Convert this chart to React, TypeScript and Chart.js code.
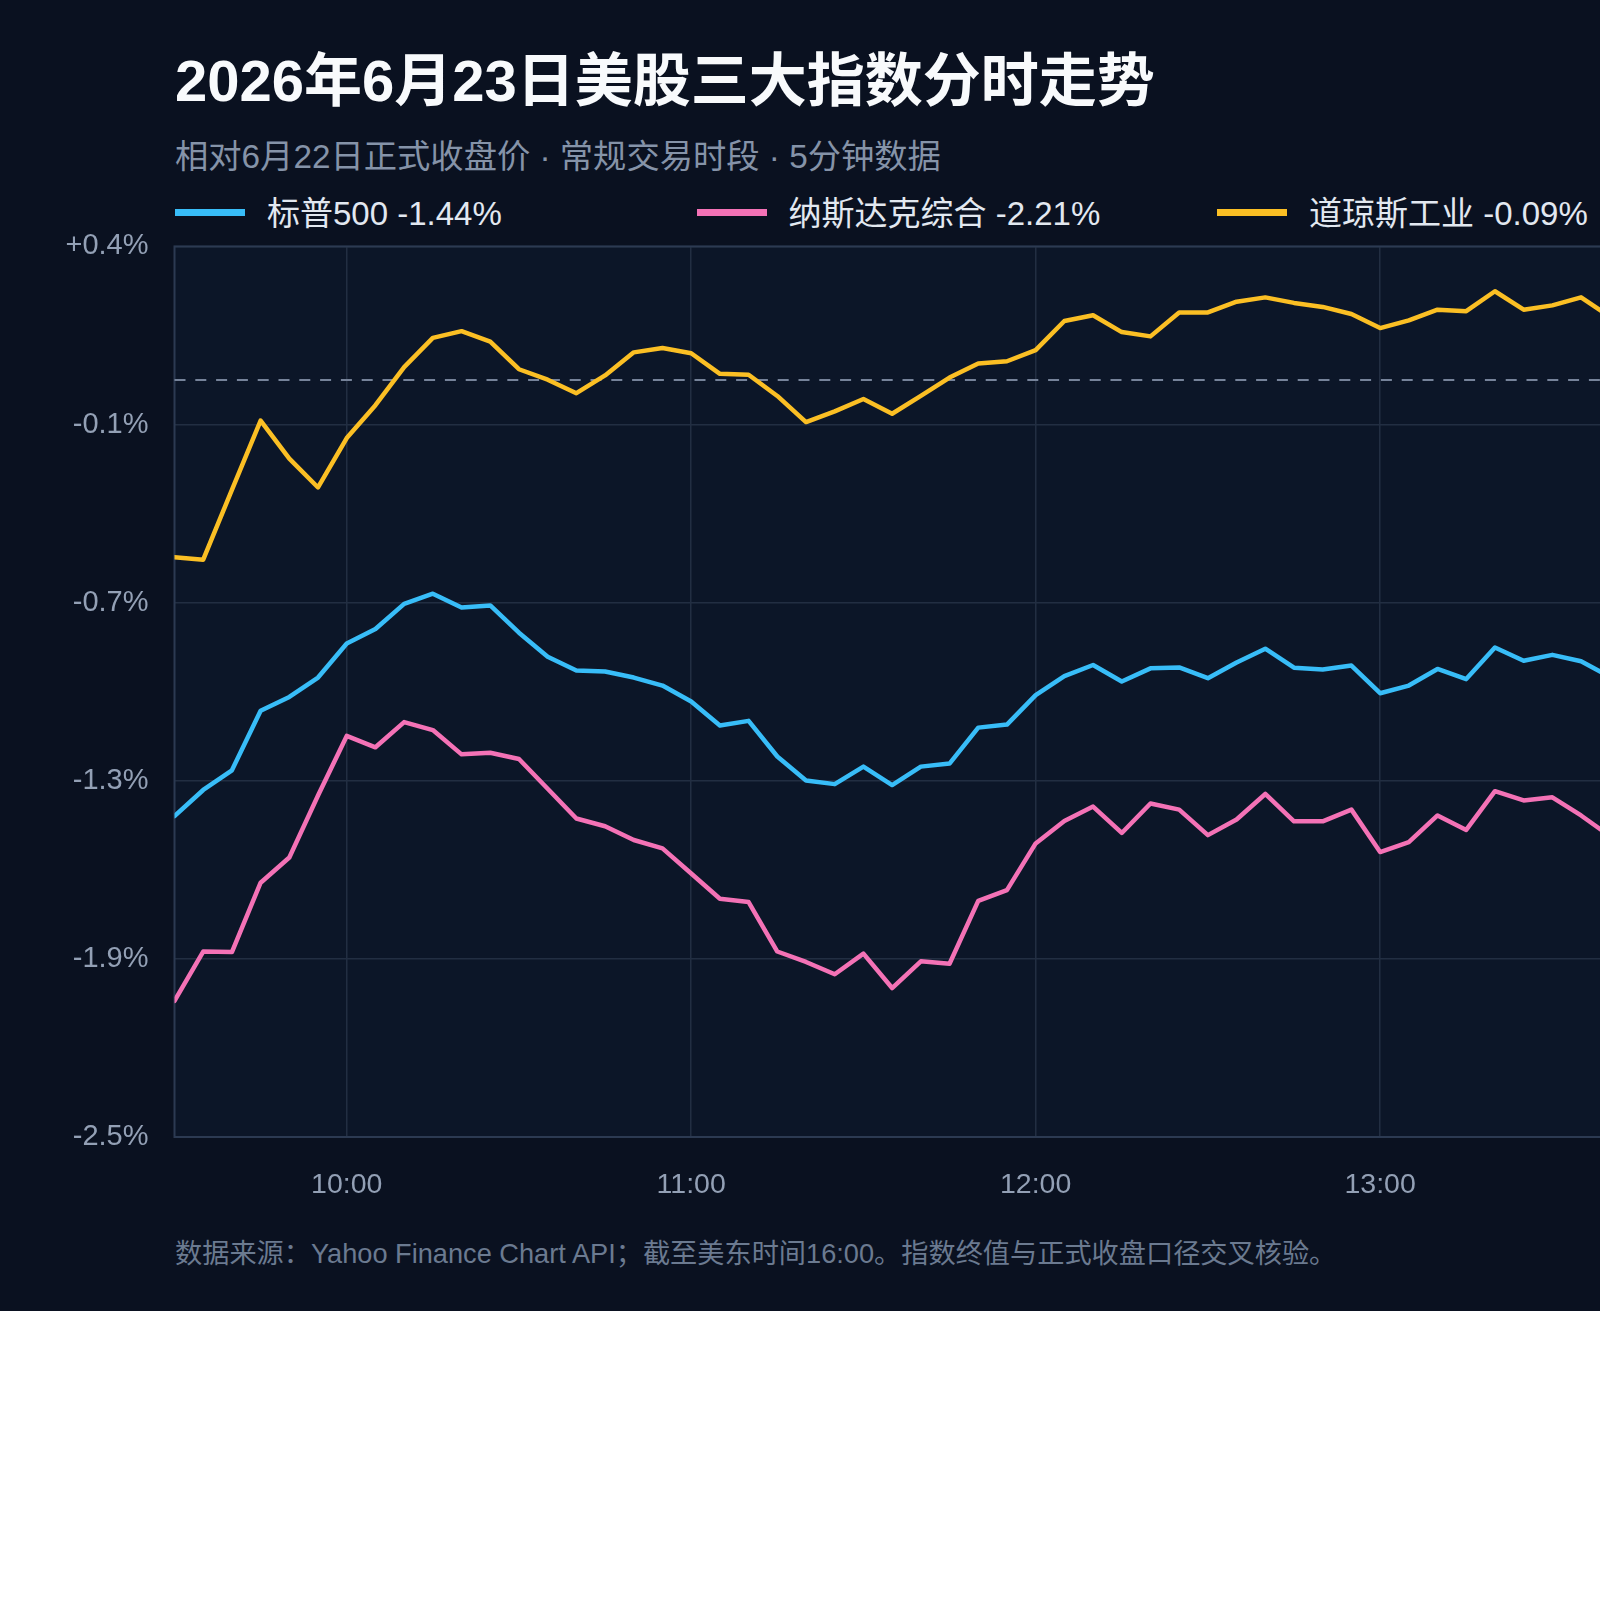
import React, { useEffect, useRef } from "react";
import { Chart, registerables } from "chart.js";

Chart.register(...registerables);

// ---- data ----
const times = [
  "09:30", "09:35", "09:40", "09:45", "09:50", "09:55",
  "10:00", "10:05", "10:10", "10:15", "10:20", "10:25",
  "10:30", "10:35", "10:40", "10:45", "10:50", "10:55",
  "11:00", "11:05", "11:10", "11:15", "11:20", "11:25",
  "11:30", "11:35", "11:40", "11:45", "11:50", "11:55",
  "12:00", "12:05", "12:10", "12:15", "12:20", "12:25",
  "12:30", "12:35", "12:40", "12:45", "12:50", "12:55",
  "13:00", "13:05", "13:10", "13:15", "13:20", "13:25",
  "13:30", "13:35", "13:40",
];

const sp500 = [
  -1.42, -1.335, -1.271, -1.077, -1.032, -0.969,
  -0.858, -0.811, -0.729, -0.696, -0.741, -0.734,
  -0.823, -0.901, -0.946, -0.949, -0.969, -0.995,
  -1.047, -1.125, -1.11, -1.226, -1.304, -1.316,
  -1.259, -1.319, -1.259, -1.249, -1.132, -1.122,
  -1.026, -0.964, -0.928, -0.982, -0.939, -0.936,
  -0.971, -0.92, -0.875, -0.937, -0.943, -0.93,
  -1.02, -0.995, -0.941, -0.974, -0.871, -0.914,
  -0.895, -0.916, -0.966,
];

const nasdaq = [
  -2.022, -1.861, -1.863, -1.637, -1.555, -1.353,
  -1.159, -1.196, -1.114, -1.14, -1.219, -1.214,
  -1.234, -1.331, -1.428, -1.453, -1.498, -1.525,
  -1.607, -1.689, -1.7, -1.861, -1.895, -1.935,
  -1.868, -1.98, -1.893, -1.901, -1.696, -1.661,
  -1.509, -1.436, -1.389, -1.475, -1.379, -1.399,
  -1.482, -1.431, -1.348, -1.437, -1.437, -1.399,
  -1.537, -1.505, -1.418, -1.465, -1.339, -1.369,
  -1.359, -1.418, -1.485,
];

const dow = [
  -0.577, -0.585, -0.358, -0.132, -0.256, -0.35,
  -0.189, -0.082, 0.042, 0.137, 0.159, 0.125,
  0.035, 0.001, -0.043, 0.015, 0.09, 0.104,
  0.087, 0.02, 0.017, -0.052, -0.137, -0.102,
  -0.062, -0.11, -0.052, 0.008, 0.054, 0.061,
  0.097, 0.192, 0.211, 0.156, 0.142, 0.22,
  0.22, 0.255, 0.269, 0.251, 0.238, 0.215,
  0.169, 0.194, 0.229, 0.224, 0.289, 0.229,
  0.243, 0.269, 0.206,
];

const seriesNames = ["标普500 -1.44%", "纳斯达克综合 -2.21%", "道琼斯工业 -0.09%"];
const seriesColors = ["#38bdf8", "#f472b6", "#fbbf24"];

const sessionStart = "09:30";
const sessionEnd = "16:00";
const xTickLabels = ["10:00", "11:00", "12:00", "13:00", "14:00", "15:00", "16:00"];
const yTickValues = [-2.465, -1.885, -1.305, -0.725, -0.145, 0.435];
const yTickLabels = ["-2.5%", "-1.9%", "-1.3%", "-0.7%", "-0.1%", "+0.4%"];

const titleText = "2026年6月23日美股三大指数分时走势";
const subtitleText = "相对6月22日正式收盘价 · 常规交易时段 · 5分钟数据";
const footnoteText = "数据来源：Yahoo Finance Chart API；截至美东时间16:00。指数终值与正式收盘口径交叉核验。";

// ---- style ----
const FONT = '"Liberation Sans", "Noto Sans CJK SC", sans-serif';
const BG = "#0a1120";
const PLOT_BG = "#0c1628";
const GRID = "#222e42";
const BORDER = "#2c3a52";
const legendLefts = [175, 696.5, 1217];
const CANVAS_TOP = 203;
const CANVAS_H = 1014;

const toMin = (t: string) => {
  const [h, m] = t.split(":").map(Number);
  const [h0, m0] = sessionStart.split(":").map(Number);
  return h * 60 + m - (h0 * 60 + m0);
};

const plotPlugin = {
  id: "plotDecor",
  beforeDraw(chart: any) {
    const { ctx, chartArea: a } = chart;
    ctx.save();
    ctx.fillStyle = PLOT_BG;
    ctx.fillRect(a.left, a.top, a.right - a.left, a.bottom - a.top);
    ctx.restore();
  },
  beforeDatasetsDraw(chart: any) {
    const { ctx, chartArea: a, scales } = chart;
    ctx.save();
    ctx.strokeStyle = BORDER;
    ctx.lineWidth = 2;
    ctx.strokeRect(a.left, a.top, a.right - a.left, a.bottom - a.top);
    const y0 = scales.y.getPixelForValue(0);
    ctx.strokeStyle = "#76839a";
    ctx.lineWidth = 2;
    ctx.setLineDash([11, 9.8]);
    ctx.beginPath();
    ctx.moveTo(a.left, y0);
    ctx.lineTo(a.right, y0);
    ctx.stroke();
    ctx.restore();
  },
};

export default function App() {
  const canvasRef = useRef<HTMLCanvasElement | null>(null);

  useEffect(() => {
    const canvas = canvasRef.current;
    if (!canvas) return;
    const series = [sp500, nasdaq, dow];
    const chart = new Chart(canvas, {
      type: "line",
      data: {
        datasets: series.map((arr, k) => ({
          label: seriesNames[k],
          data: times.map((t, i) => ({ x: toMin(t), y: arr[i] })),
          borderColor: seriesColors[k],
          backgroundColor: seriesColors[k],
          borderWidth: 4.5,
          pointRadius: 0,
          tension: 0,
          borderJoinStyle: "round" as const,
          borderCapStyle: "round" as const,
        })),
      },
      options: {
        responsive: false,
        animation: false,
        devicePixelRatio: 1,
        layout: { autoPadding: false, padding: { top: 8, right: 146.5, bottom: 0, left: 0 } },
        plugins: { legend: { display: false }, tooltip: { enabled: false } },
        scales: {
          x: {
            type: "linear",
            min: 0,
            max: toMin(sessionEnd),
            afterBuildTicks: (s: any) => {
              s.ticks = xTickLabels.map((t) => ({ value: toMin(t) }));
            },
            afterFit: (s: any) => {
              s.height = 80;
            },
            grid: { color: GRID, lineWidth: 1.5, drawTicks: false },
            border: { display: false },
            ticks: {
              autoSkip: false,
              maxRotation: 0,
              padding: 31,
              color: "#93a0b5",
              font: { family: FONT, size: 28.5 },
              callback: (_v: any, i: number) => xTickLabels[i],
            },
          },
          y: {
            type: "linear",
            min: yTickValues[0],
            max: yTickValues[yTickValues.length - 1],
            afterBuildTicks: (s: any) => {
              s.ticks = yTickValues.map((v) => ({ value: v }));
            },
            afterFit: (s: any) => {
              s.width = 174.5;
            },
            grid: { color: GRID, lineWidth: 1.5, drawTicks: false },
            border: { display: false },
            ticks: {
              padding: 26,
              color: "#93a0b5",
              font: { family: FONT, size: 29 },
              callback: (_v: any, i: number) => yTickLabels[i],
            },
          },
        },
      },
      plugins: [plotPlugin],
    });
    return () => chart.destroy();
  }, []);

  const text = (extra: React.CSSProperties): React.CSSProperties => ({
    position: "absolute",
    whiteSpace: "nowrap",
    fontFamily: FONT,
    margin: 0,
    ...extra,
  });

  return (
    <div
      style={{
        position: "absolute",
        left: 0,
        top: 0,
        width: 1600,
        height: 1311,
        overflow: "hidden",
        background: BG,
      }}
    >
      <div style={{ position: "absolute", left: 0, top: 0, width: 2560, height: 1311 }}>
        <div style={text({ left: 175, top: 51.5, fontSize: 58, lineHeight: "58px", fontWeight: 700, color: "#f8fafc" })}>
          {titleText}
        </div>
        <div style={text({ left: 175, top: 139.5, fontSize: 33.3, lineHeight: "33px", color: "#8593a8" })}>
          {subtitleText}
        </div>
        {seriesNames.map((name, k) => (
          <React.Fragment key={name}>
            <div
              style={{
                position: "absolute",
                left: legendLefts[k],
                top: 208.5,
                width: 70,
                height: 7,
                background: seriesColors[k],
              }}
            />
            <div style={text({ left: legendLefts[k] + 92, top: 196.5, fontSize: 33, lineHeight: "33px", color: "#e2e8f0" })}>
              {name}
            </div>
          </React.Fragment>
        ))}
        <canvas
          ref={canvasRef}
          width={2560}
          height={CANVAS_H}
          style={{ position: "absolute", left: 0, top: CANVAS_TOP, width: 2560, height: CANVAS_H }}
        />
        <div style={text({ left: 175, top: 1240, fontSize: 27.2, lineHeight: "27px", color: "#6b7a90" })}>
          {footnoteText}
        </div>
      </div>
    </div>
  );
}
